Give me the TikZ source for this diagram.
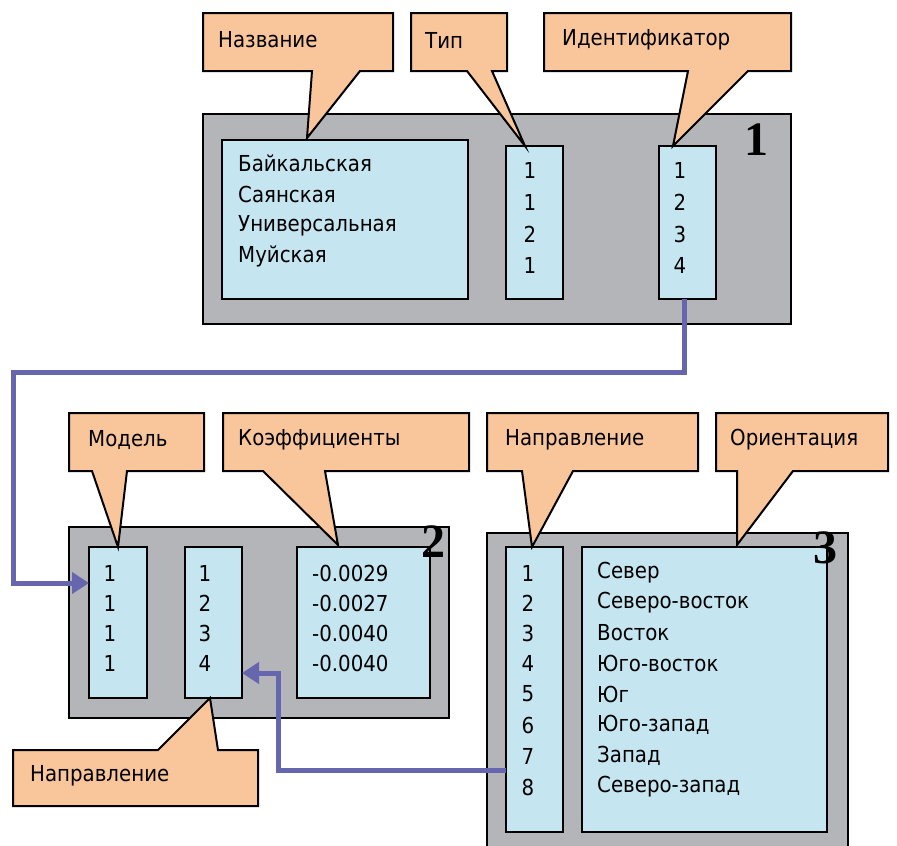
\documentclass[tikz,border=0pt]{standalone}
\usepackage{fontspec}
\setmainfont{DejaVu Sans Condensed}
\newfontfamily\bignum{Liberation Serif}
\usetikzlibrary{arrows.meta}
\definecolor{panelgray}{HTML}{B4B5B9}
\definecolor{cellblue}{HTML}{C5E6F0}
\definecolor{peach}{HTML}{F9C59B}
\definecolor{linkblue}{HTML}{6666AE}
\tikzset{
  panel/.style={draw=black, line width=2pt, fill=panelgray, inner sep=0pt, outer sep=0pt, anchor=north west},
  cell/.style={draw=black, line width=2pt, fill=cellblue, inner sep=0pt, outer sep=0pt, anchor=north west},
  callout/.style={draw=black, line width=2pt, fill=peach, line join=miter},
  txt/.style={anchor=west, inner sep=0pt, font=\fontsize{22}{24}\selectfont},
  numtxt/.style={anchor=center, inner sep=0pt, font=\fontsize{22}{24}\selectfont},
  bigno/.style={anchor=center, inner sep=0pt, font=\fontsize{48}{50}\selectfont\bignum\bfseries},
  link/.style={draw=linkblue, line width=5pt, -{Triangle[length=17pt,width=21pt]}}
}
\begin{document}
\begin{tikzpicture}[x=1pt,y=-1pt]
\useasboundingbox (0,0) rectangle (897,846);
\clip (0,0) rectangle (897,846);
\fill[white] (0,0) rectangle (897,846);

% ---------- Panel 1 ----------
\node[panel, minimum width=588pt, minimum height=210pt] (p1) at (203,114) {};
\node[cell, minimum width=246pt, minimum height=159pt] (nameBox) at (222,140) {};
\node[cell, minimum width=57pt, minimum height=153pt] (typeBox) at (506,146) {};
\node[cell, minimum width=57pt, minimum height=153pt] (idBox) at (659,146) {};
\node[bigno] (n1) at (756,140) {1};
\node[txt] (nm1) at (238,163) {Байкальская};
\node[txt] (nm2) at (238,194) {Саянская};
\node[txt] (nm3) at (238,226) {Универсальная};
\node[txt] (nm4) at (238,256) {Муйская};
\foreach \v/\y [count=\i] in {1/170,1/202,2/234,1/265}{
  \node[numtxt] (ty\i) at (530,\y) {\v};
}
\foreach \v/\y [count=\i] in {1/170,2/202,3/234,4/265}{
  \node[numtxt] (id\i) at (680,\y) {\v};
}

% callouts panel 1
\draw[callout] (203,13) -- (393,13) -- (393,71) -- (360,71) -- (307,138) -- (312,71) -- (203,71) -- cycle;
\node[txt] (cNazv) at (218,40) {Название};
\draw[callout] (411,13) -- (507,13) -- (507,71) -- (492,71) -- (525,146) -- (467,71) -- (411,71) -- cycle;
\node[txt] (cTip) at (425,40) {Тип};
\draw[callout] (544,13) -- (791,13) -- (791,71) -- (748,71) -- (673,146) -- (688,71) -- (544,71) -- cycle;
\node[txt] (cId) at (562,40) {Идентификатор};

% ---------- Panel 2 ----------
\node[panel, minimum width=380pt, minimum height=191pt] (p2) at (69,527) {};
\node[cell, minimum width=58pt, minimum height=151pt] (modelBox) at (89,547) {};
\node[cell, minimum width=57pt, minimum height=151pt] (dirBox2) at (185,547) {};
\node[cell, minimum width=133pt, minimum height=151pt] (coefBox) at (297,547) {};
\foreach \y [count=\i] in {573,603,633,663}{
  \node[numtxt] (md\i) at (110,\y) {1};
}
\foreach \v/\y [count=\i] in {1/573,2/603,3/633,4/663}{
  \node[numtxt] (dr\i) at (205,\y) {\v};
}
\foreach \v/\y [count=\i] in {-0.0029/573,-0.0027/603,-0.0040/633,-0.0040/663}{
  \node[txt] (cf\i) at (312,\y) {\v};
}
\node[bigno] (n2) at (433,542) {2};

\draw[callout] (69,413) -- (204,413) -- (204,471) -- (127,471) -- (118,547) -- (92,471) -- (69,471) -- cycle;
\node[txt] (cModel) at (88,440) {Модель};
\draw[callout] (223,413) -- (469,413) -- (469,471) -- (325,471) -- (338,545) -- (263,471) -- (223,471) -- cycle;
\node[txt] (cCoef) at (238,440) {Коэффициенты};
\draw[callout] (13,750) -- (158,750) -- (210,698) -- (218,750) -- (258,750) -- (258,806) -- (13,806) -- cycle;
\node[txt] (cDir2) at (30,776) {Направление};

% ---------- Panel 3 ----------
\node[panel, minimum width=361pt, minimum height=340pt] (p3) at (487,533) {};
\node[cell, minimum width=57pt, minimum height=285pt] (dirBox3) at (506,547) {};
\node[cell, minimum width=245pt, minimum height=285pt] (orBox) at (582,547) {};
\foreach \v/\w/\y [count=\i] in {1/Север/573,2/Северо-восток/603,3/Восток/633,4/Юго-восток/663,5/Юг/694,6/Юго-запад/725,7/Запад/756,8/Северо-запад/787}{
  \node[numtxt] (dn\i) at (528,\y) {\v};
  \node[txt] (or\i) at (597,\y) {\w};
}
\node[bigno] (n3) at (825,548) {3};

\draw[callout] (487,413) -- (698,413) -- (698,471) -- (573,471) -- (532,547) -- (522,471) -- (487,471) -- cycle;
\node[txt] (cDir3) at (505,440) {Направление};
\draw[callout] (716,413) -- (888,413) -- (888,471) -- (793,471) -- (737,545) -- (737,471) -- (716,471) -- cycle;
\node[txt] (cOr) at (730,440) {Ориентация};

% ---------- Links ----------
\coordinate (bendA) at (13,372);
\coordinate (endA) at (89,583);
\draw[link] (idBox.south -| 684,0) |- (bendA) |- (endA);
\coordinate (startB) at (506,770);
\coordinate (bendB) at (278,673);
\coordinate (endB) at (242,673);
\draw[link] (startB) -| (bendB) -- (endB);
\end{tikzpicture}
\end{document}
